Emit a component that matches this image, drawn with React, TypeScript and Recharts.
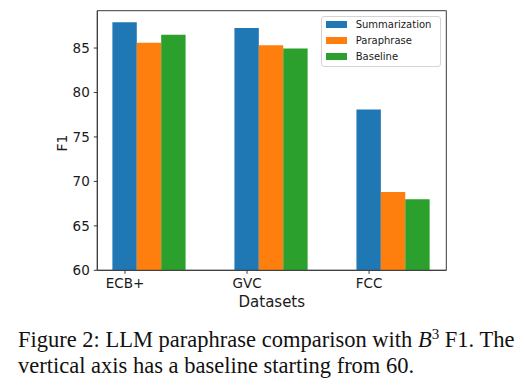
import React from "react";
import {
  BarChart,
  Bar,
  XAxis,
  YAxis,
  Legend,
  Label,
  ReferenceArea,
} from "recharts";

const datasets = ["ECB+", "GVC", "FCC"];
const summarization = [87.9, 87.25, 78.1];
const paraphrase = [85.6, 85.3, 68.8];
const baseline = [86.5, 84.95, 68.0];
const yTicks = [60, 65, 70, 75, 80, 85];

const series = [
  { key: "summarization", name: "Summarization", color: "#1f77b4" },
  { key: "paraphrase", name: "Paraphrase", color: "#ff7f0e" },
  { key: "baseline", name: "Baseline", color: "#2ca02c" },
];

// matplotlib-style grouping: tick sits on the first bar of each group
const BAR_W = 0.2;
const X_DOMAIN: [number, number] = [-0.227, 2.633];
const Y_DOMAIN: [number, number] = [60, 89.2];

const data = datasets.map((name, i) => ({
  name,
  x: i + BAR_W,
  summarization: summarization[i],
  paraphrase: paraphrase[i],
  baseline: baseline[i],
}));

const FONT = "'DejaVu Sans', sans-serif";
const SERIF = "'Liberation Serif', 'Times New Roman', serif";
const SPINE = "#3a3a3a";
const TEXT = "#1a1a1a";

function LegendBox() {
  return (
    <div
      style={{
        width: 118,
        height: 49,
        border: "1px solid #d4d4d4",
        borderRadius: 3,
        background: "rgba(255,255,255,0.8)",
        fontFamily: FONT,
        fontSize: 10,
        color: TEXT,
      }}
    >
      {series.map((s) => (
        <div
          key={s.key}
          style={{ height: 16, display: "flex", alignItems: "center" }}
        >
          <span
            style={{
              display: "inline-block",
              width: 21,
              height: 7,
              marginLeft: 4,
              marginRight: 9,
              background: s.color,
            }}
          />
          <span>{s.name}</span>
        </div>
      ))}
    </div>
  );
}

export default function App() {
  return (
    <div
      style={{
        position: "absolute",
        left: 0,
        top: 0,
        width: 525,
        height: 391,
        background: "#fff",
      }}
    >
      <BarChart
        width={525}
        height={310}
        data={data}
        margin={{ top: 10.7, right: 78.7, bottom: 0, left: 0 }}
        barGap={0}
        barSize={24.4}
      >
        <XAxis
          dataKey="x"
          type="number"
          domain={X_DOMAIN}
          allowDataOverflow
          ticks={[0, 1, 2]}
          tickFormatter={(v) => datasets[Math.round(v)]}
          height={39.7}
          stroke={SPINE}
          tickSize={3.5}
          tickMargin={4.5}
          tick={{ fill: TEXT, fontSize: 13.5, fontFamily: FONT }}
        >
          <Label
            content={({ viewBox }: any) => (
              <text
                x={viewBox.x + viewBox.width / 2}
                y={306.5}
                textAnchor="middle"
                fontSize={15}
                fontFamily={FONT}
                fill={TEXT}
              >
                Datasets
              </text>
            )}
          />
        </XAxis>
        <YAxis
          domain={Y_DOMAIN}
          allowDataOverflow
          ticks={yTicks}
          width={97.3}
          stroke={SPINE}
          tickSize={3.5}
          tickMargin={4}
          tick={{ fill: TEXT, fontSize: 13.5, fontFamily: FONT }}
        >
          <Label
            content={() => (
              <text
                x={66.7}
                y={143}
                transform="rotate(-90 66.7 143)"
                textAnchor="middle"
                fontSize={14}
                fontFamily={FONT}
                fill={TEXT}
              >
                F1
              </text>
            )}
          />
        </YAxis>
        {/* axes frame (top/right spines) */}
        <ReferenceArea
          x1={X_DOMAIN[0]}
          x2={X_DOMAIN[1]}
          y1={Y_DOMAIN[0]}
          y2={Y_DOMAIN[1]}
          fill="none"
          stroke={SPINE}
          strokeWidth={1}
          ifOverflow="visible"
        />
        <Legend
          layout="vertical"
          align="center"
          verticalAlign="middle"
          content={() => <LegendBox />}
          wrapperStyle={{ left: 320.7, top: 15.7, width: 120, height: 51 }}
        />
        {series.map((s) => (
          <Bar
            key={s.key}
            dataKey={s.key}
            name={s.name}
            fill={s.color}
            isAnimationActive={false}
          />
        ))}
      </BarChart>
      <div
        style={{
          position: "absolute",
          left: 18,
          top: 328.9,
          width: 496,
          fontFamily: SERIF,
          fontSize: 22.5,
          lineHeight: "22.5px",
          color: "#111",
          textAlign: "justify",
          textAlignLast: "justify",
          whiteSpace: "nowrap",
        }}
      >
        Figure 2: LLM paraphrase comparison with <i>B</i>
        <sup style={{ fontSize: 15, lineHeight: 0 }}>3</sup> F1. The
      </div>
      <div
        style={{
          position: "absolute",
          left: 18,
          top: 355.2,
          fontFamily: SERIF,
          fontSize: 22.5,
          lineHeight: "22.5px",
          color: "#111",
          whiteSpace: "nowrap",
        }}
      >
        vertical axis has a baseline starting from 60.
      </div>
    </div>
  );
}
